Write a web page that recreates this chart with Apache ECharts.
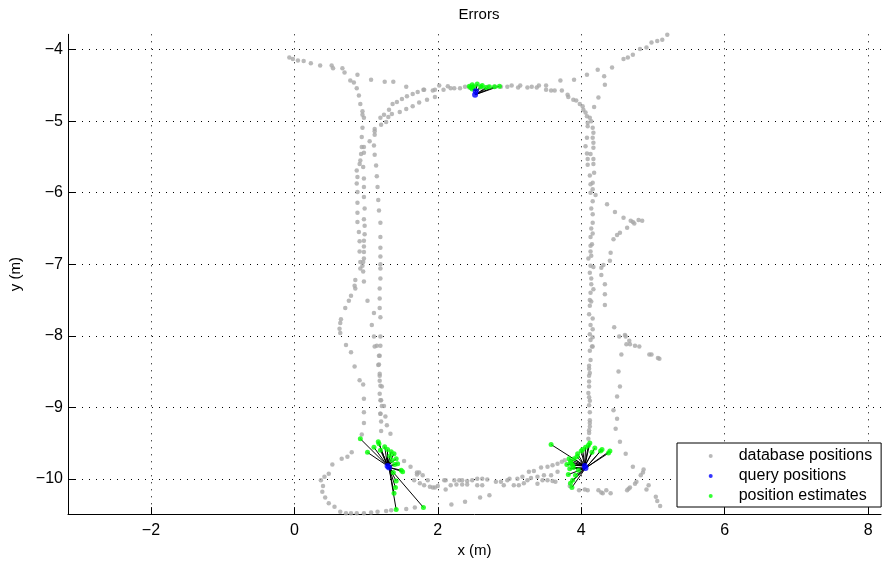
<!DOCTYPE html>
<html>
<head>
<meta charset="utf-8">
<title>Errors</title>
<script src="https://cdn.jsdelivr.net/npm/echarts@6/dist/echarts.min.js"></script>
<style>
body { margin: 0; background: #fff; }
#chart { width: 882px; height: 563px; }
</style>
</head>
<body>
<div id="chart"></div>
<script>
// axis ranges (m)
var xRange = [-3.156, 8.18]
var yRange = [-10.493, -3.785]

var legendNames = ['database positions', 'query positions', 'position estimates']

// gray trajectory points
var databasePositions = [
  // top left branch
  [-0.07,-4.11],[-0.02,-4.13],[0.05,-4.15],[0.13,-4.16],[0.23,-4.19],[0.36,-4.22],[0.52,-4.22],[0.54,-4.26],
  [0.67,-4.26],[0.70,-4.32],[0.78,-4.43],[0.83,-4.46],[0.87,-4.54],[0.90,-4.64],[0.92,-4.76],[0.95,-4.86],
  [0.95,-4.91],[0.97,-4.95],[0.95,-5.09],[0.94,-5.22],[0.94,-5.36],[0.97,-5.36],[0.93,-5.46],[0.92,-5.55],
  [0.91,-5.60],[0.87,-5.69],[0.88,-5.78],[0.87,-5.87],[0.97,-5.44],[0.96,-5.64],[0.97,-5.80],
  [0.88,-4.35],[1.07,-4.42],[1.26,-4.45],[1.38,-4.45],[1.56,-4.52],
  // two strands up to the top edge
  [1.20,-4.95],[1.25,-4.91],[1.32,-4.84],[1.37,-4.76],[1.43,-4.73],[1.50,-4.69],[1.57,-4.65],[1.65,-4.62],
  [1.72,-4.59],[1.80,-4.56],
  [1.21,-5.05],[1.28,-5.01],[1.31,-4.94],[1.36,-4.90],[1.47,-4.87],[1.56,-4.83],[1.65,-4.79],[1.74,-4.74],
  [1.85,-4.70],[1.96,-4.66],
  // top edge
  [1.81,-4.56],[1.93,-4.57],[1.96,-4.56],[2.02,-4.50],[2.08,-4.56],[2.14,-4.51],[2.18,-4.54],[2.23,-4.54],
  [2.31,-4.54],[2.38,-4.52],[2.44,-4.53],[2.50,-4.52],[2.60,-4.53],[2.70,-4.52],[2.80,-4.52],[2.88,-4.52],
  [2.97,-4.52],[3.03,-4.50],[3.12,-4.53],[3.15,-4.50],[3.25,-4.53],[3.31,-4.52],[3.38,-4.53],[3.41,-4.50],
  [3.51,-4.50],[3.51,-4.56],[3.58,-4.57],[3.63,-4.57],[3.71,-4.43],[3.73,-4.57],[3.81,-4.63],[3.82,-4.66],
  [3.89,-4.70],[3.90,-4.42],[3.93,-4.71],[3.98,-4.76],[4.02,-4.79],[4.03,-4.84],[4.06,-4.88],[4.08,-4.93],
  [4.12,-4.95],[4.14,-5.00],[4.09,-5.02],[4.16,-5.09],[4.09,-5.07],[4.17,-5.16],[4.16,-5.23],[4.08,-5.23],
  [4.17,-5.30],[4.06,-5.35],[4.17,-5.37],[4.08,-5.45],[4.13,-5.46],[4.09,-5.53],[4.17,-5.53],[4.17,-5.60],
  [4.09,-5.61],[4.18,-5.72],[4.12,-5.76],[4.16,-5.86],[4.13,-5.88],
  // top right branch
  [4.18,-4.80],[4.24,-4.67],[4.33,-4.49],[4.32,-4.37],[4.23,-4.28],[4.08,-4.35],[4.43,-4.25],[4.59,-4.13],
  [4.65,-4.11],[4.72,-4.07],[4.82,-3.99],[4.91,-3.97],[4.98,-3.90],[5.06,-3.88],[5.13,-3.86],[5.20,-3.79],
  // right side
  [4.20,-6.03],[4.16,-5.95],[4.13,-6.00],[4.16,-6.12],[4.14,-6.22],[4.16,-6.30],[4.16,-6.42],[4.14,-6.50],
  [4.16,-6.57],[4.13,-6.62],[4.15,-6.72],[4.13,-6.74],[4.13,-6.82],[4.14,-6.88],[4.10,-6.92],[4.13,-7.02],
  [4.17,-7.04],[4.12,-7.12],[4.14,-7.20],[4.14,-7.28],[4.17,-7.35],[4.13,-7.40],[4.12,-7.50],[4.14,-7.52],
  [4.12,-7.58],[4.11,-7.70],[4.16,-7.76],[4.13,-7.85],[4.16,-7.91],[4.12,-7.98],[4.16,-8.02],[4.13,-8.06],
  [4.16,-8.15],
  [4.36,-6.16],[4.47,-6.27],[4.59,-6.35],[4.69,-6.39],[4.72,-6.41],[4.74,-6.43],[4.80,-6.38],[4.85,-6.39],
  [4.64,-6.49],[4.54,-6.56],[4.50,-6.59],[4.45,-6.65],[4.41,-6.84],[4.40,-6.95],[4.31,-7.01],[4.28,-7.05],
  [4.28,-7.15],[4.33,-7.28],[4.33,-7.42],[4.33,-7.57],
  [4.46,-7.88],[4.61,-7.99],[4.62,-8.01],[4.53,-8.01],[4.67,-8.07],[4.63,-8.12],[4.68,-8.12],[4.81,-8.15],
  [4.75,-8.14],[4.95,-8.26],[4.98,-8.26],[5.07,-8.31],[5.09,-8.32],[4.56,-8.26],[4.52,-8.50],[4.54,-8.71],
  [4.50,-8.85],[4.45,-9.04],[4.50,-9.16],[4.48,-9.30],[4.54,-9.48],[4.62,-9.65],[4.72,-9.83],[4.86,-9.91],
  [4.87,-9.87],[4.83,-9.95],[4.77,-10.04],[4.75,-10.07],[4.68,-10.12],[4.66,-10.14],[4.64,-10.16],[4.94,-10.09],
  [4.91,-10.15],[5.04,-10.25],[5.06,-10.31],[5.10,-10.38],
  [4.15,-8.15],[4.12,-8.21],[4.13,-8.34],[4.11,-8.42],[4.11,-8.46],[4.12,-8.52],[4.11,-8.56],[4.11,-8.64],
  [4.11,-8.71],[4.10,-8.80],[4.11,-8.86],[4.12,-8.91],[4.11,-8.97],[4.12,-9.07],[4.12,-9.18],[4.12,-9.22],
  [4.12,-9.27],[4.11,-9.32],[4.11,-9.36],[4.10,-9.44],
  // bottom edge
  [3.84,-10.10],[3.97,-10.16],[4.09,-10.16],[4.24,-10.16],[4.28,-10.19],[4.30,-10.20],[4.35,-10.16],[4.41,-10.20],
  [4.05,-10.15],
  [3.27,-9.90],[3.34,-9.89],[3.44,-9.84],[3.53,-9.83],[3.60,-9.81],[3.67,-9.79],[3.73,-9.76],[3.77,-9.74],
  [2.55,-10.00],[2.62,-10.00],[2.69,-10.01],[2.97,-10.02],[3.00,-10.00],[3.11,-10.00],[3.18,-9.97],[3.25,-10.02],
  [3.30,-9.99],[3.39,-9.97],[3.48,-9.95],[3.58,-9.95],[3.67,-9.90],
  [2.81,-10.04],[2.88,-10.04],[2.92,-10.09],[3.06,-10.09],[3.13,-10.09],[3.20,-10.06],[3.39,-10.07],[3.46,-10.02],
  [3.53,-10.02],[3.60,-10.03],[3.64,-10.04],[2.72,-10.23],[2.59,-10.26],[2.55,-10.09],[2.62,-10.09],
  [1.56,-10.42],[1.68,-10.40],[2.19,-10.36],[2.38,-10.32],
  [1.53,-9.75],[1.62,-9.83],[1.71,-9.91],[1.74,-9.91],[1.71,-9.94],[1.67,-10.02],[1.79,-9.95],[1.86,-10.02],
  [1.75,-10.06],[1.81,-10.09],[1.89,-10.11],[1.93,-10.12],[1.96,-10.12],[2.00,-10.10],[2.09,-10.02],[2.11,-10.02],
  [2.11,-10.15],[2.18,-10.09],[2.23,-10.02],[2.30,-10.02],[2.34,-10.02],[2.41,-10.03],[2.48,-10.02],[2.26,-10.08],
  [2.34,-10.08],[2.41,-10.08],
  // bottom left loop
  [0.97,-8.88],[0.97,-9.22],[0.94,-9.38],[0.80,-9.63],[0.74,-9.69],[0.66,-9.72],[0.53,-9.80],[0.48,-9.93],
  [0.42,-9.97],[0.37,-10.02],[0.40,-10.10],[0.39,-10.18],[0.43,-10.26],[0.48,-10.34],[0.56,-10.39],[0.64,-10.46],
  [0.72,-10.48],[0.79,-10.48],[0.87,-10.48],[0.97,-10.48],[1.07,-10.47],[1.16,-10.46],[1.28,-10.45],[1.35,-10.44],
  [0.72,-8.13],[1.15,-8.14],[1.18,-8.28],[0.84,-8.43],[1.17,-8.41],[1.19,-8.56],[0.91,-8.62],[1.20,-8.70],
  [1.21,-8.90],[1.20,-9.09],[1.21,-9.20],[1.29,-9.25],[1.21,-9.33],[1.34,-9.37],
  // left side strands
  [0.88,-5.99],[0.88,-6.14],[0.88,-6.28],[0.88,-6.41],[0.90,-6.55],[0.91,-6.68],[0.91,-6.82],[0.92,-6.97],
  [0.92,-7.06],[0.85,-7.22],[0.84,-7.30],[0.85,-7.34],[0.79,-7.44],[0.76,-7.51],[0.71,-7.61],[0.65,-7.77],
  [0.64,-7.82],[0.63,-7.90],[0.64,-7.96],[0.79,-8.23],[0.96,-8.68],[0.97,-9.07],
  [0.97,-5.92],[0.97,-6.06],[0.98,-6.22],[0.97,-6.37],[0.98,-6.46],[0.98,-6.58],[0.97,-6.67],[0.97,-6.75],
  [0.97,-6.83],[0.97,-6.92],[0.96,-6.97],[0.95,-7.02],[0.96,-7.10],[0.97,-7.24],[1.02,-7.51],[1.11,-7.68],
  [1.08,-7.85],[1.11,-8.01],[1.12,-8.15],
  [1.12,-5.11],[1.12,-5.14],[1.12,-5.19],[1.05,-5.28],[1.11,-5.34],[1.12,-5.47],[1.14,-5.62],[1.15,-5.77],
  [1.16,-5.92],[1.17,-6.10],[1.18,-6.25],[1.20,-6.42],[1.20,-6.62],[1.20,-6.77],[1.20,-6.89],[1.20,-7.00],
  [1.20,-7.06],[1.20,-7.20],[1.19,-7.34],[1.19,-7.48],[1.19,-7.61],[1.20,-7.74],[1.20,-8.01],[1.20,-8.14],
  [1.19,-8.28],[1.18,-8.40],[1.19,-8.53],[1.19,-8.63],[1.22,-8.71],[1.19,-8.81],[1.20,-8.90],[1.22,-8.98],
  [1.25,-8.98],[1.20,-9.09],[1.27,-9.13]
]

// blue query points
var queryPositions = [
  [2.53,-4.58],[2.52,-4.63],
  [1.30,-9.82],[1.32,-9.84],
  [4.05,-9.82],[4.06,-9.85]
]

// green estimates: [x, y, index of its query]
var positionEstimates = [
  [2.44,-4.51,0],[2.48,-4.49,0],[2.55,-4.48,0],[2.50,-4.52,0],[2.46,-4.53,0],[2.62,-4.50,0],[2.48,-4.55,0],
  [2.60,-4.52,1],[2.67,-4.53,1],[2.72,-4.52,1],[2.79,-4.52,1],[2.86,-4.51,1],
  [0.92,-9.44,2],[1.17,-9.48,2],[1.18,-9.51,2],[1.11,-9.56,2],[1.02,-9.63,2],[1.30,-9.59,2],[1.39,-9.65,2],
  [1.42,-9.72,2],[1.44,-9.79,2],[1.49,-9.88,3],[1.51,-9.90,3],[1.38,-9.91,3],[1.42,-10.03,3],[1.41,-10.12,3],
  [1.39,-10.20,3],[1.42,-10.43,3],[1.80,-10.40,3],[1.33,-9.68,2],[1.36,-9.74,2],[1.40,-9.80,3],[1.26,-9.55,2],
  [1.20,-9.60,2],[1.35,-9.62,2],
  [3.58,-9.52,4],[3.83,-9.72,4],[3.85,-9.76,4],[3.88,-9.81,4],[3.84,-9.86,5],[3.82,-9.94,5],[3.88,-10.02,5],
  [3.85,-10.06,5],[3.87,-10.12,5],[3.94,-9.69,4],[4.00,-9.61,4],[4.06,-9.56,4],[4.12,-9.50,4],[4.10,-9.53,4],
  [4.19,-9.57,4],[4.15,-9.63,4],[4.29,-9.59,5],[4.27,-9.61,5],[4.40,-9.61,5],[4.38,-9.64,5],[4.02,-9.59,4],
  [3.95,-9.65,4],[3.90,-9.72,4],[3.92,-9.95,5],[3.96,-9.88,5],[3.86,-9.78,4],[3.89,-9.84,5],[3.80,-9.80,4]
]

var errorSegments = positionEstimates.map(function (e) {
  var q = queryPositions[e[2]]
  return { coords: [[q[0], q[1]], [e[0], e[1]]] }
})

var fontFamily = 'Liberation Sans, Arial, sans-serif'
function minus(v) { return String(v).replace('-', '\u2212') }

var chart = echarts.init(document.getElementById('chart'))
chart.setOption({
  animation: false,
  backgroundColor: '#fff',
  textStyle: { fontFamily: fontFamily },
  title: {
    text: 'Errors',
    left: 474,
    textAlign: 'center',
    top: 2,
    textStyle: { fontSize: 15, fontWeight: 'normal', color: '#000', fontFamily: fontFamily }
  },
  grid: { left: 66.7, right: 1, top: 34.3, bottom: 47.3 },
  legend: {
    orient: 'vertical',
    left: 677,
    top: 443,
    padding: [5, 9, 3, 31.7],
    itemWidth: 4,
    itemHeight: 4,
    itemGap: 4,
    icon: 'circle',
    borderColor: '#000',
    borderWidth: 1,
    borderRadius: 0,
    backgroundColor: '#fff',
    selectedMode: false,
    textStyle: { fontSize: 16, lineHeight: 16, padding: [0, 0, 0, 21], color: '#000', fontFamily: fontFamily },
    data: legendNames
  },
  xAxis: {
    type: 'value',
    min: xRange[0],
    max: xRange[1],
    name: 'x (m)',
    nameLocation: 'middle',
    nameGap: 25,
    nameTextStyle: { fontSize: 15, color: '#000' },
    axisLine: { onZero: false, lineStyle: { color: '#000', width: 1 } },
    axisTick: { inside: true, length: 7, lineStyle: { color: '#000' } },
    axisLabel: { showMinLabel: false, showMaxLabel: false, margin: 8, fontSize: 16, color: '#000', formatter: minus },
    splitLine: { show: true, showMinLine: false, showMaxLine: false, lineStyle: { color: '#000', type: [1, 6], width: 1 } }
  },
  yAxis: {
    type: 'value',
    min: yRange[0],
    max: yRange[1],
    name: 'y (m)',
    nameLocation: 'middle',
    nameGap: 45,
    nameTextStyle: { fontSize: 15, color: '#000' },
    axisLine: { onZero: false, lineStyle: { color: '#000', width: 1 } },
    axisTick: { inside: true, length: 7, lineStyle: { color: '#000' } },
    axisLabel: { showMinLabel: false, showMaxLabel: false, margin: 5, fontSize: 16, color: '#000', formatter: minus },
    splitLine: { show: true, showMinLine: false, showMaxLine: false, lineStyle: { color: '#000', type: [1, 6], width: 1 } }
  },
  series: [
    {
      name: legendNames[0],
      type: 'scatter',
      symbolSize: 4.5,
      itemStyle: { color: '#a8a8a8' },
      data: databasePositions
    },
    {
      type: 'lines',
      coordinateSystem: 'cartesian2d',
      polyline: false,
      silent: true,
      lineStyle: { color: '#000', width: 1, opacity: 1 },
      data: errorSegments
    },
    {
      name: legendNames[2],
      type: 'scatter',
      symbolSize: 5,
      itemStyle: { color: '#00ff00' },
      data: positionEstimates.map(function (e) { return [e[0], e[1]] })
    },
    {
      name: legendNames[1],
      type: 'scatter',
      symbolSize: 6,
      itemStyle: { color: '#0000ff' },
      data: queryPositions
    }
  ]
})
</script>
</body>
</html>
